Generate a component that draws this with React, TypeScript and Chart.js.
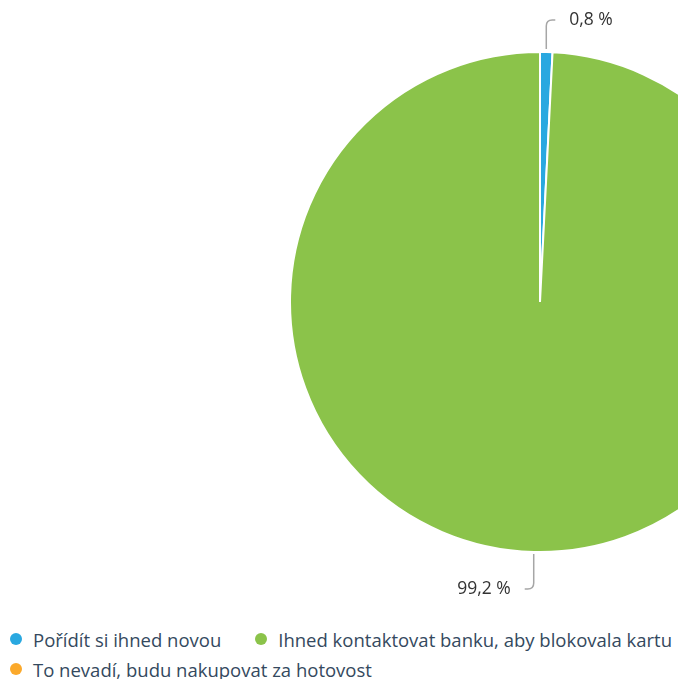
import { useEffect, useRef } from "react";
import { Chart, registerables } from "chart.js";

Chart.register(...registerables);

const categories = [
  "Pořídít si ihned novou",
  "Ihned kontaktovat banku, aby blokovala kartu",
  "To nevadí, budu nakupovat za hotovost",
];
const shares = [0.8, 99.2, 0];
const colors = ["#29a8e0", "#8bc34a", "#fba92b"];

const FONT = '"Open Sans", "Noto Sans", sans-serif';

const PIE_CX = 540;
const PIE_CY = 302;
const PIE_HALF = 251;

const pieBoxPlugin = {
  id: "pieBox",
  afterLayout(chart: any) {
    chart.chartArea = {
      left: PIE_CX - PIE_HALF,
      right: PIE_CX + PIE_HALF,
      top: PIE_CY - PIE_HALF,
      bottom: PIE_CY + PIE_HALF,
      width: PIE_HALF * 2,
      height: PIE_HALF * 2,
    };
  },
};

const sliceLabelPlugin = {
  id: "sliceLabels",
  afterDatasetsDraw(chart: any) {
    const ctx = chart.ctx as CanvasRenderingContext2D;
    const meta = chart.getDatasetMeta(0);
    meta.data.forEach((arc: any, i: number) => {
      const v = shares[i];
      if (!v) return;
      const { x, y, startAngle, endAngle, outerRadius } = arc.getProps(
        ["x", "y", "startAngle", "endAngle", "outerRadius"],
        true
      );
      const mid = (startAngle + endAngle) / 2;
      const ex = x + Math.cos(mid) * outerRadius;
      const ey = y + Math.sin(mid) * outerRadius;
      const up = Math.sin(mid) < 0;
      const right = Math.cos(mid) >= 0;
      const dir = right ? 1 : -1;
      const ly = up ? y - outerRadius - 32 : y + outerRadius + 37;
      const sy = up ? ey - 3 : ey + 2;
      const corner = 6;
      ctx.save();
      ctx.strokeStyle = "#a6a6a6";
      ctx.lineWidth = 1.5;
      ctx.beginPath();
      ctx.moveTo(ex, sy);
      ctx.lineTo(ex, up ? ly + corner : ly - corner);
      ctx.quadraticCurveTo(ex, ly, ex + dir * corner, ly);
      ctx.lineTo(ex + dir * 9, ly);
      ctx.stroke();
      ctx.fillStyle = "#333333";
      ctx.font = `17.5px ${FONT}`;
      ctx.textBaseline = "middle";
      ctx.textAlign = right ? "left" : "right";
      const txt = v.toFixed(1).replace(".", ",") + " %";
      ctx.fillText(txt, ex + dir * 23, ly);
      ctx.restore();
    });
  },
};

export default function App() {
  const ref = useRef<HTMLCanvasElement>(null);
  useEffect(() => {
    document.body.style.margin = "0";
    const chart = new Chart(ref.current!, {
      type: "pie",
      data: {
        labels: categories,
        datasets: [
          {
            data: shares,
            backgroundColor: colors,
            borderColor: "#ffffff",
            borderWidth: 2,
            hoverOffset: 0,
          },
        ],
      },
      options: {
        animation: false,
        responsive: true,
        maintainAspectRatio: false,
        plugins: {
          legend: { display: false },
          tooltip: { enabled: false },
        },
      },
      plugins: [pieBoxPlugin, sliceLabelPlugin],
    });
    return () => chart.destroy();
  }, []);

  return (
    <div
      style={{
        position: "relative",
        width: 678,
        height: 679,
        overflow: "hidden",
        background: "#ffffff",
      }}
    >
      <div style={{ position: "absolute", left: 0, top: 0, width: 678, height: 615 }}>
        <canvas ref={ref} />
      </div>
      <div
        style={{
          position: "absolute",
          left: 10,
          top: 624,
          width: 668,
          display: "flex",
          flexWrap: "wrap",
          columnGap: 34,
          fontFamily: FONT,
          fontSize: 18.5,
          color: "#34495e",
        }}
      >
        {categories.map((c, i) => (
          <div
            key={c}
            style={{ display: "flex", alignItems: "center", height: 30, whiteSpace: "nowrap" }}
          >
            <span
              style={{
                display: "inline-block",
                width: 12,
                height: 12,
                borderRadius: "50%",
                background: colors[i],
                marginRight: 11,
              }}
            />
            <span>{c}</span>
          </div>
        ))}
      </div>
    </div>
  );
}
